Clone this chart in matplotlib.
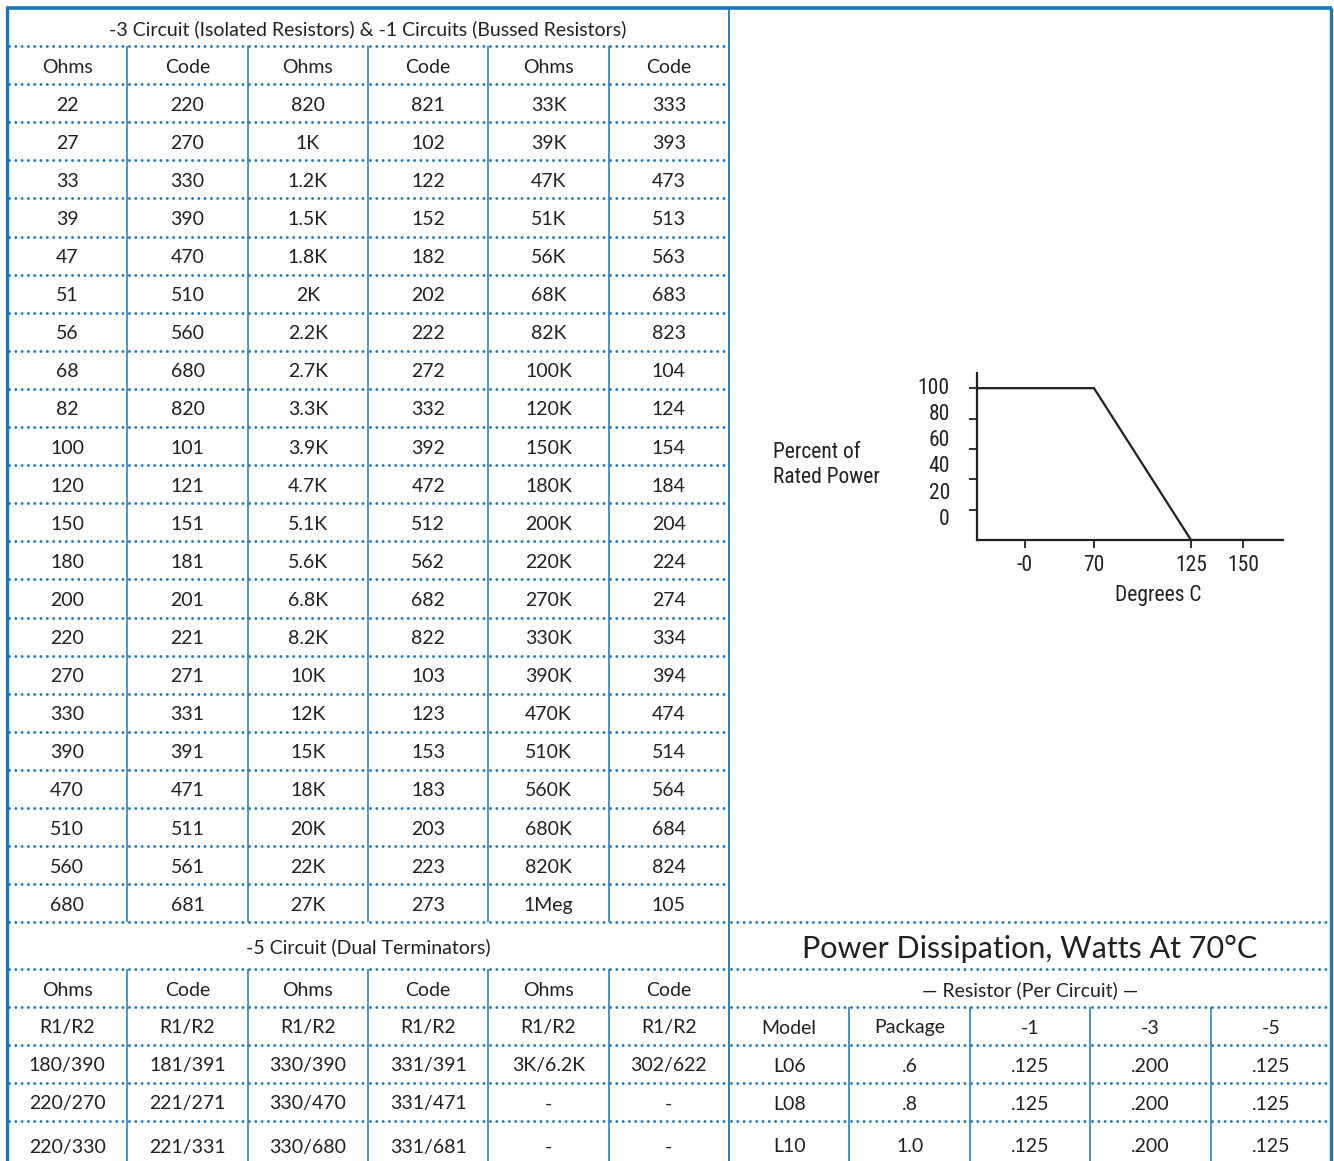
import numpy as np
import matplotlib.pyplot as plt

# -3 / -1 circuit values (three Ohms/Code column pairs)
ohms_a = ['22', '27', '33', '39', '47', '51', '56', '68', '82', '100', '120',
          '150', '180', '200', '220', '270', '330', '390', '470', '510', '560', '680']
code_a = ['220', '270', '330', '390', '470', '510', '560', '680', '820', '101', '121',
          '151', '181', '201', '221', '271', '331', '391', '471', '511', '561', '681']
ohms_b = ['820', '1K', '1.2K', '1.5K', '1.8K', '2K', '2.2K', '2.7K', '3.3K', '3.9K', '4.7K',
          '5.1K', '5.6K', '6.8K', '8.2K', '10K', '12K', '15K', '18K', '20K', '22K', '27K']
code_b = ['821', '102', '122', '152', '182', '202', '222', '272', '332', '392', '472',
          '512', '562', '682', '822', '103', '123', '153', '183', '203', '223', '273']
ohms_c = ['33K', '39K', '47K', '51K', '56K', '68K', '82K', '100K', '120K', '150K', '180K',
          '200K', '220K', '270K', '330K', '390K', '470K', '510K', '560K', '680K', '820K', '1Meg']
code_c = ['333', '393', '473', '513', '563', '683', '823', '104', '124', '154', '184',
          '204', '224', '274', '334', '394', '474', '514', '564', '684', '824', '105']

# -5 circuit (dual terminators)
dual_ohms_a = ['180/390', '220/270', '220/330']
dual_code_a = ['181/391', '221/271', '221/331']
dual_ohms_b = ['330/390', '330/470', '330/680']
dual_code_b = ['331/391', '331/471', '331/681']
dual_ohms_c = ['3K/6.2K', '-', '-']
dual_code_c = ['302/622', '-', '-']

# power dissipation
models = ['L06', 'L08', 'L10']
package = ['.6', '.8', '1.0']
watts_1 = ['.125', '.125', '.125']
watts_3 = ['.200', '.200', '.200']
watts_5 = ['.125', '.125', '.125']
power_cols = ['Model', 'Package', '-1', '-3', '-5']

# derating curve
derate_temp = [-50, 70, 125, 170]
derate_pct = [100, 100, 0, 0]
temp_ticks = [0, 70, 125, 150]
temp_labels = ['-0', '70', '125', '150']
pct_ticks = [20, 40, 60, 80, 100]
pct_labels = ['100', '80', '60', '40', '20', '0']
pct_label_vals = [100, 80, 60, 40, 20, 0]

BLUE = '#1b75bb'
INK = '#231f20'
FONT = ['Lato', 'DejaVu Sans']
CHART_FONT = ['Roboto Condensed', 'Liberation Sans Narrow', 'Roboto', 'DejaVu Sans']

W, H = 1334, 1161
fig = plt.figure(figsize=(W / 100, H / 100), dpi=100)
ax = fig.add_axes([0, 0, 1, 1])
ax.set_xlim(0, W)
ax.set_ylim(H, 0)
ax.axis('off')


def dotted(x0, x1, y):
    ax.plot([x0 + 1.5, x1 - 1.5], [y, y], color=BLUE, lw=2.1, ls=(0, (0.01, 2.15)),
            dash_capstyle='round', solid_capstyle='round')


def vline(x, y0, y1, lw=1.1):
    ax.plot([x, x], [y0, y1], color=BLUE, lw=lw, solid_capstyle='butt')


def cell(x, y, s, size=14):
    ax.text(x, y + 2, s, ha='center', va='center', fontsize=size, color=INK, family=FONT)


L, MID, R = 7, 729, 1331
col_x = np.linspace(L, MID, 7)
rcol_x = np.linspace(MID, R, 6)

# ---- top table ----
row_h = 38.1
y_head = 46
n_rows = len(ohms_a)
y_lines = y_head + row_h * np.arange(n_rows + 2)
for y in y_lines[:-1]:
    for i in range(6):
        dotted(col_x[i], col_x[i + 1], y)
y_end = y_lines[-1]
for x in col_x[1:-1]:
    vline(x, y_head, y_end)

cell((L + MID) / 2, 27, '-3 Circuit (Isolated Resistors) & -1 Circuits (Bussed Resistors)')
cols = [ohms_a, code_a, ohms_b, code_b, ohms_c, code_c]
for i in range(6):
    cx = (col_x[i] + col_x[i + 1]) / 2
    cell(cx, y_head + row_h / 2, 'Ohms' if i % 2 == 0 else 'Code')
    for r, v in enumerate(cols[i]):
        cell(cx, y_head + row_h * (r + 1.5), v)

# ---- bottom section ----
yb = [y_end, 969, 1007, 1045, 1083, 1121, 1171]
for y in yb[:-1]:
    for i in range(6):
        dotted(col_x[i], col_x[i + 1], y)
    for i in range(5):
        dotted(rcol_x[i], rcol_x[i + 1], y)
for x in col_x[1:-1]:
    vline(x, yb[1], H)
for x in rcol_x[1:-1]:
    vline(x, yb[2], H)

cell((L + MID) / 2, (yb[0] + yb[1]) / 2, '-5 Circuit (Dual Terminators)')
dual_cols = [dual_ohms_a, dual_code_a, dual_ohms_b, dual_code_b, dual_ohms_c, dual_code_c]
text_y = [(yb[3] + yb[4]) / 2, (yb[4] + yb[5]) / 2, 1145]
for i in range(6):
    cx = (col_x[i] + col_x[i + 1]) / 2
    cell(cx, (yb[1] + yb[2]) / 2, 'Ohms' if i % 2 == 0 else 'Code')
    cell(cx, (yb[2] + yb[3]) / 2, 'R1/R2')
    for r, v in enumerate(dual_cols[i]):
        cell(cx, text_y[r], v)

cell((MID + R) / 2, (yb[0] + yb[1]) / 2 + 1, 'Power Dissipation, Watts At 70°C', size=22)
cell((MID + R) / 2, (yb[1] + yb[2]) / 2, '— Resistor (Per Circuit) —')
pcols = [models, package, watts_1, watts_3, watts_5]
for i in range(5):
    cx = (rcol_x[i] + rcol_x[i + 1]) / 2
    cell(cx, (yb[2] + yb[3]) / 2, power_cols[i])
    for r, v in enumerate(pcols[i]):
        cell(cx, text_y[r], v)

# outer frame
vline(MID, 8, H, lw=1.3)
ax.plot([L - 1, R + 1], [8, 8], color=BLUE, lw=2.6, solid_capstyle='butt')
vline(L, 8, H, lw=2.4)
vline(R, 8, H, lw=2.4)

# ---- derating chart ----
cx0, cx1, cy0, cy1 = 977, 1283, 540, 373
cax = fig.add_axes([cx0 / W, 1 - cy0 / H, (cx1 - cx0) / W, (cy0 - cy1) / H])
cax.patch.set_alpha(0)

anchor_t = [-50, 0, 70, 125, 150, 170]
anchor_p = [0, 48, 117, 214, 266, 306]


def fwd(t):
    return np.interp(t, anchor_t, anchor_p)


def inv(p):
    return np.interp(p, anchor_p, anchor_t)


cax.set_xscale('function', functions=(fwd, inv))
cax.set_xlim(-50, 170)
cax.set_ylim(0, 110)
cax.plot(derate_temp, derate_pct, color='#231f20', lw=1.6, solid_joinstyle='miter')
for s in ['top', 'right']:
    cax.spines[s].set_visible(False)
for s in ['left', 'bottom']:
    cax.spines[s].set_linewidth(1.6)
    cax.spines[s].set_color('#231f20')
cax.set_xticks(temp_ticks, temp_labels)
cax.set_yticks(pct_ticks, [])
cax.tick_params(axis='both', length=5.5, width=1.3, color='#231f20')
cax.tick_params(axis='x', pad=5, labelsize=15.5, labelcolor=INK)
for lab in cax.get_xticklabels():
    lab.set_family(CHART_FONT)

label_squeeze = 0.865
for s, v in zip(pct_labels, pct_label_vals):
    cax.annotate(s, xy=(0, 100 - (100 - v) * label_squeeze), xycoords=('axes fraction', 'data'),
                 xytext=(-19.5, 0), textcoords='offset points', ha='right', va='center',
                 fontsize=15.5, color=INK, family=CHART_FONT)

ax.text(773, 465, 'Percent of\nRated Power', ha='left', va='center', fontsize=15.5,
        color=INK, family=CHART_FONT, linespacing=1.25)
ax.text(1158, 595, 'Degrees C', ha='center', va='center', fontsize=15.5,
        color=INK, family=CHART_FONT)

fig.savefig('out.png', dpi=100)
